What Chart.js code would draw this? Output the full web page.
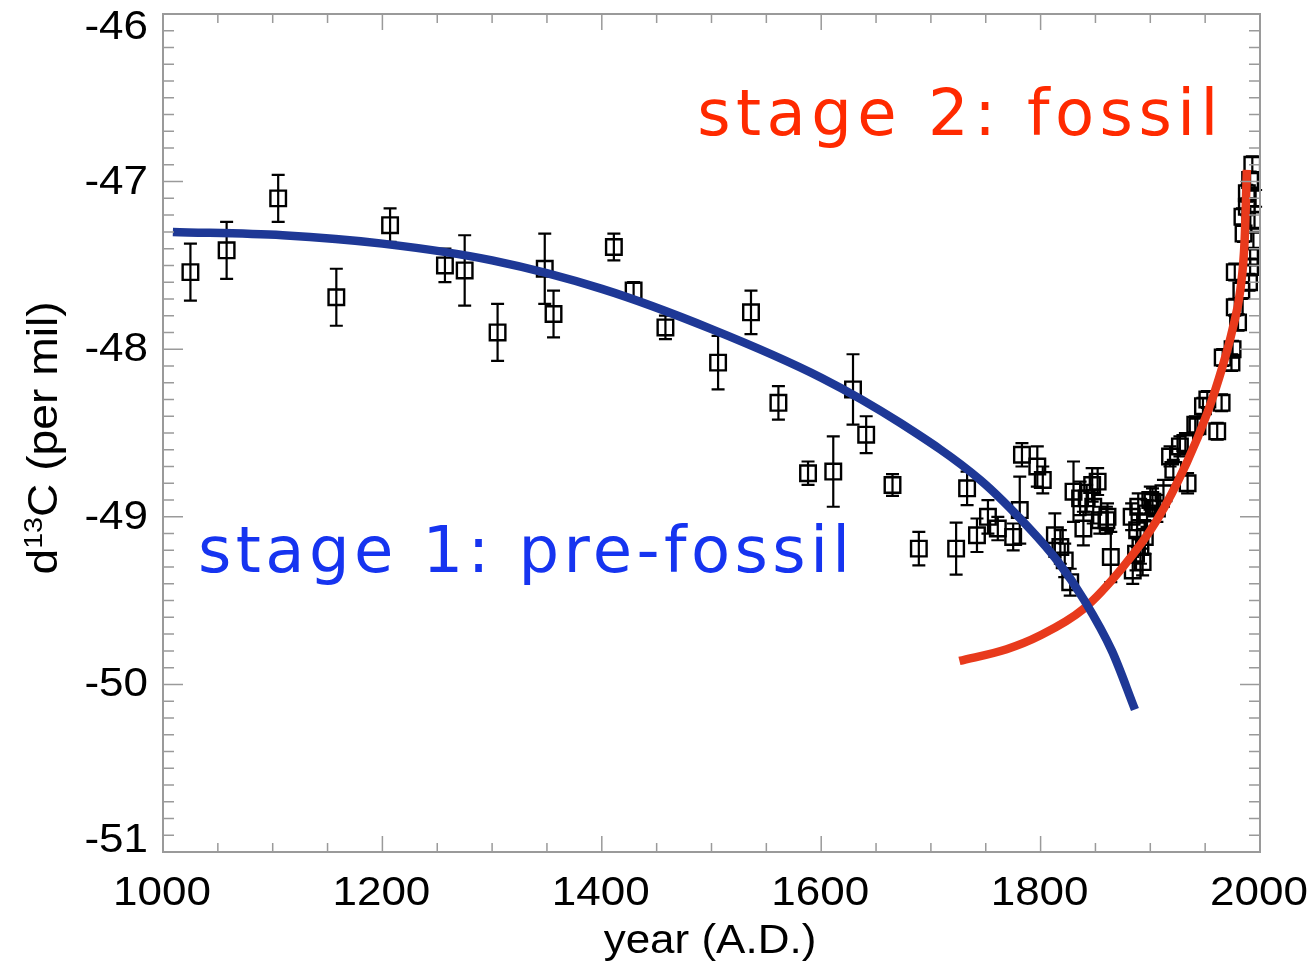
<!DOCTYPE html>
<html>
<head>
<meta charset="utf-8">
<script src="https://cdn.jsdelivr.net/npm/chart.js@4.4.0/dist/chart.umd.min.js"></script>
<style>
  html, body { margin: 0; padding: 0; background: #fff; }
  #wrap { width: 1312px; height: 965px; position: relative; }
</style>
</head>
<body>
<div id="wrap"><canvas id="chart"></canvas></div>
<script>
"use strict";

// measured ice-core samples: year, d13C, error
const years = [
  1025, 1058, 1105, 1158, 1207, 1257, 1275, 1305, 1348, 1356,
  1411, 1429, 1458, 1506, 1536, 1561, 1588, 1611, 1629, 1641,
  1665, 1689, 1723, 1733, 1742, 1752, 1761, 1775, 1781, 1783,
  1797, 1802, 1813, 1818, 1822, 1827, 1830, 1836, 1839, 1847,
  1852, 1848, 1854, 1861, 1864, 1883, 1884, 1888, 1891, 1893,
  1889, 1897, 1900, 1906, 1912, 1918, 1921, 1927, 1934, 1932,
  1941, 1943, 1948, 1952, 1961, 1965, 1966, 1974, 1975, 1977,
  1977, 1980, 1984, 1985, 1988, 1988, 1991, 1991, 1991, 1993,
  1994, 1995, 1996, 1990, 1983, 1887, 1895, 1902, 1842, 1860
];
const d13c = [
  -47.54, -47.41, -47.10, -47.69, -47.26, -47.50, -47.53, -47.90, -47.52, -47.79,
  -47.39, -47.65, -47.87, -48.08, -47.78, -48.32, -48.74, -48.73, -48.24, -48.51,
  -48.81, -49.19, -49.19, -48.83, -49.11, -49.00, -49.07, -49.12, -48.96, -48.63,
  -48.70, -48.78, -49.11, -49.18, -49.26, -49.39, -48.85, -48.89, -49.07, -48.81,
  -48.79, -48.94, -49.02, -49.00, -49.24, -49.00, -49.32, -49.08, -49.18, -49.27,
  -48.94, -48.98, -48.90, -48.95, -48.86, -48.64, -48.72, -48.58, -48.80, -48.56,
  -48.45, -48.46, -48.34, -48.30, -48.49, -48.32, -48.05, -48.08, -48.00, -47.75,
  -47.54, -47.84, -47.21, -47.31, -47.15, -47.07, -46.99, -47.45, -47.51, -46.90,
  -47.35, -47.23, -47.10, -47.60, -47.65, -49.22, -49.12, -48.91, -48.89, -49.02
];
const d13cErr = [
  0.17, 0.17, 0.14, 0.17, 0.10, 0.10, 0.21, 0.17, 0.21, 0.14,
  0.08, 0.05, 0.07, 0.16, 0.13, 0.10, 0.07, 0.21, 0.21, 0.11,
  0.065, 0.10, 0.155, 0.10, 0.10, 0.10, 0.07, 0.08, 0.20, 0.07,
  0.12, 0.08, 0.13, 0.10, 0.10, 0.08, 0.18, 0.10, 0.10, 0.10,
  0.08, 0.10, 0.08, 0.08, 0.15, 0.08, 0.08, 0.10, 0.10, 0.08,
  0.08, 0.08, 0.08, 0.08, 0.08, 0.06, 0.06, 0.06, 0.06, 0.06,
  0.05, 0.05, 0.05, 0.05, 0.05, 0.05, 0.05, 0.05, 0.05, 0.05,
  0.05, 0.05, 0.05, 0.05, 0.05, 0.05, 0.05, 0.05, 0.05, 0.05,
  0.05, 0.05, 0.05, 0.05, 0.05, 0.10, 0.10, 0.08, 0.08, 0.08
];

// hand-drawn trend curves
const stage1Years = [1009, 1109, 1200, 1300, 1400, 1500, 1600, 1672, 1745, 1790, 1815, 1840, 1865, 1886];
const stage1Vals  = [-47.30, -47.32, -47.37, -47.47, -47.64, -47.88, -48.17, -48.44, -48.78, -49.07, -49.26, -49.50, -49.80, -50.15];
const stage2Years = [1726, 1769, 1799, 1839, 1875, 1906, 1933, 1952, 1966, 1975, 1982, 1986, 1988];
const stage2Vals  = [-49.86, -49.79, -49.71, -49.55, -49.30, -49.02, -48.68, -48.38, -48.10, -47.88, -47.65, -47.35, -46.93];

const xTicks = [1000, 1200, 1400, 1600, 1800, 2000];
const yTicks = [-51, -50, -49, -48, -47, -46];

const labels = {
  stage2: { text: 'stage 2: fossil', x: 1487, y: -46.72, width: 521, color: 'rgb(255,42,0)' },
  stage1: { text: 'stage 1: pre-fossil', x: 1032, y: -49.33, width: 652, color: 'rgb(22,52,240)' }
};

const pts = years.map(function(y, i) { return {x: y, y: d13c[i]}; });
const curve = function(xs, vs) { return xs.map(function(x, i) { return {x: x, y: vs[i]}; }); };

const AXIS_GRAY = '#9a9a9a';
const FONT = '"Liberation Sans", Arial, Helvetica, sans-serif';
const STRETCH = 1.1;

function stretchedText(ctx, text, x, y, align) {
  ctx.save();
  ctx.translate(x, y);
  ctx.scale(STRETCH, 1);
  ctx.textAlign = align;
  ctx.fillText(text, 0, 0);
  ctx.restore();
}

const framePlugin = {
  id: 'frame',
  beforeDatasetsDraw: function(chart) {
    const ctx = chart.ctx, xs = chart.scales.x, ys = chart.scales.y;
    ctx.save();
    ctx.strokeStyle = '#000';
    ctx.lineWidth = 2.2;
    for (let i = 0; i < years.length; i++) {
      const px = xs.getPixelForValue(years[i]);
      const top = ys.getPixelForValue(d13c[i] + d13cErr[i]);
      const bot = ys.getPixelForValue(d13c[i] - d13cErr[i]);
      ctx.beginPath();
      ctx.moveTo(px, top); ctx.lineTo(px, bot);
      ctx.moveTo(px - 6.5, top); ctx.lineTo(px + 6.5, top);
      ctx.moveTo(px - 6.5, bot); ctx.lineTo(px + 6.5, bot);
      ctx.stroke();
    }
    ctx.restore();
  },
  afterDatasetsDraw: function(chart) {
    const ctx = chart.ctx, xs = chart.scales.x, ys = chart.scales.y;
    ctx.save();
    Object.keys(labels).forEach(function(k) {
      const l = labels[k];
      ctx.font = '64px "DejaVu Sans", sans-serif';
      ctx.letterSpacing = '0px';
      const w = ctx.measureText(l.text).width;
      const sp = (l.width - w) / (l.text.length - 1);
      ctx.letterSpacing = sp + 'px';
      ctx.fillStyle = l.color;
      ctx.textAlign = 'left';
      ctx.textBaseline = 'alphabetic';
      ctx.fillText(l.text, xs.getPixelForValue(l.x), ys.getPixelForValue(l.y));
    });
    ctx.restore();
  },
  afterDraw: function(chart) {
    const ctx = chart.ctx, a = chart.chartArea, xs = chart.scales.x, ys = chart.scales.y;
    ctx.save();
    ctx.strokeStyle = AXIS_GRAY;
    ctx.lineWidth = 2;
    ctx.strokeRect(a.left, a.top, a.right - a.left, a.bottom - a.top);
    ctx.lineWidth = 1.5;
    ctx.beginPath();
    for (let v = 1000; v <= 2000; v += 50) {
      const px = xs.getPixelForValue(v);
      const len = (v % 200 === 0) ? 16 : 9;
      ctx.moveTo(px, a.bottom); ctx.lineTo(px, a.bottom - len);
      ctx.moveTo(px, a.top); ctx.lineTo(px, a.top + len);
    }
    for (let k = -510; k <= -460; k++) {
      const py = ys.getPixelForValue(k / 10);
      const len = (k % 10 === 0) ? 20 : 11;
      ctx.moveTo(a.left, py); ctx.lineTo(a.left + len, py);
      ctx.moveTo(a.right, py); ctx.lineTo(a.right - len, py);
    }
    ctx.stroke();

    // tick labels
    ctx.fillStyle = '#000';
    ctx.font = '40px ' + FONT;
    ctx.textBaseline = 'middle';
    xTicks.forEach(function(v) {
      stretchedText(ctx, String(v), xs.getPixelForValue(v) - 1, 894, 'center');
    });
    yTicks.forEach(function(v) {
      let py = ys.getPixelForValue(v);
      if (v === ys.max) py += 13;
      if (v === ys.min) py -= 12;
      stretchedText(ctx, String(v), 148, py + 1, 'right');
    });

    // axis titles
    ctx.font = '40px ' + FONT;
    ctx.textBaseline = 'middle';
    stretchedText(ctx, 'year (A.D.)', 710, 942, 'center');

    ctx.translate(57, 438);
    ctx.rotate(-Math.PI / 2);
    ctx.scale(STRETCH, 1);
    const t1 = 'd', t2 = '13', t3 = 'C (per mil)';
    ctx.font = '42px ' + FONT;
    const w1 = ctx.measureText(t1).width, w3 = ctx.measureText(t3).width;
    ctx.font = '26px ' + FONT;
    const w2 = ctx.measureText(t2).width;
    const x0 = -(w1 + w2 + w3) / 2;
    ctx.textAlign = 'left';
    ctx.textBaseline = 'alphabetic';
    ctx.font = '42px ' + FONT;
    ctx.fillText(t1, x0, 0);
    ctx.font = '26px ' + FONT;
    ctx.fillText(t2, x0 + w1, -15);
    ctx.font = '42px ' + FONT;
    ctx.fillText(t3, x0 + w1 + w2, 0);
    ctx.restore();
  }
};

new Chart('chart', {
  type: 'scatter',
  data: {
    datasets: [
      {
        type: 'line', label: 'stage 1', data: curve(stage1Years, stage1Vals), order: 0,
        borderColor: 'rgb(30,56,150)', borderWidth: 8.5, pointRadius: 0,
        cubicInterpolationMode: 'monotone', fill: false, borderCapStyle: 'butt'
      },
      {
        type: 'line', label: 'stage 2', data: curve(stage2Years, stage2Vals), order: 0,
        borderColor: 'rgb(232,58,28)', borderWidth: 8.5, pointRadius: 0,
        cubicInterpolationMode: 'monotone', fill: false, borderCapStyle: 'butt'
      },
      {
        label: 'samples', data: pts, order: 1,
        pointStyle: 'rect', pointRadius: 11, pointBorderWidth: 2.4,
        pointBorderColor: '#000', pointBackgroundColor: 'rgba(0,0,0,0)'
      }
    ]
  },
  options: {
    responsive: true,
    maintainAspectRatio: false,
    animation: false,
    layout: { padding: { top: 14, right: 52, left: 0, bottom: 0 } },
    plugins: { legend: { display: false }, tooltip: { enabled: false } },
    scales: {
      x: {
        type: 'linear', min: 1000, max: 2000,
        grid: { display: false, drawTicks: false },
        border: { display: false },
        afterBuildTicks: function(s) { s.ticks = xTicks.map(function(v) { return {value: v}; }); },
        afterFit: function(s) { s.height = 113; s.paddingLeft = 0; s.paddingRight = 0; },
        ticks: { display: false }
      },
      y: {
        type: 'linear', min: -51, max: -46,
        grid: { display: false, drawTicks: false },
        border: { display: false },
        afterBuildTicks: function(s) { s.ticks = yTicks.map(function(v) { return {value: v}; }); },
        afterFit: function(s) { s.width = 163; s.paddingTop = 0; s.paddingBottom = 0; },
        ticks: { display: false }
      }
    }
  },
  plugins: [framePlugin]
});
</script>
</body>
</html>
